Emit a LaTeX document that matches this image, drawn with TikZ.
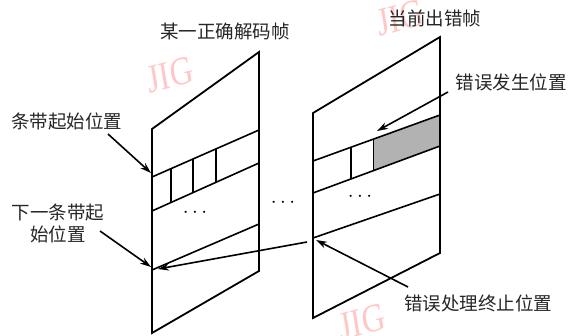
\documentclass[tikz,border=0pt]{standalone}
\usepackage{fontspec}
\newfontfamily\cjk{Noto Sans CJK SC}
\newfontfamily\wmfont{Liberation Serif}
\usetikzlibrary{arrows.meta,calc}
\begin{document}
\begin{tikzpicture}[x=1pt,y=-1pt,
  frame/.style={line width=1.8pt, line join=miter},
  thin/.style={line width=1.6pt},
  lbl/.style={font=\cjk\fontsize{18.5}{22}\selectfont, inner sep=0pt, text=black!85},
  arr/.style={line width=1.6pt, -{Stealth[length=11pt,width=7pt]}},
  dots/.style={font=\fontsize{20}{20}\selectfont, inner sep=0pt},
  wm/.style={font=\wmfont\fontsize{40}{40}\selectfont, text=red!22, inner sep=0pt, xscale=0.8}]
\useasboundingbox (0,0) rectangle (573,335);
% watermarks
\node[wm, rotate=12] (wm1) at (170,75) {JIG};
\node[wm, rotate=12] (wm2) at (400,18) {JIG};
\node[wm, rotate=12] (wm3) at (362,322) {JIG};
% left frame corners
\coordinate (LTL) at (152,129);
\coordinate (LTR) at (259,52);
\coordinate (LBR) at (259,271);
\coordinate (LBL) at (152,333);
% left strips
\coordinate (La1) at (152,177); \coordinate (Lb1) at (259,130);
\coordinate (La2) at (152,211); \coordinate (Lb2) at (259,163);
\coordinate (La3) at (152,270); \coordinate (Lb3) at (259,224);
% right frame corners
\coordinate (RTL) at (313,113);
\coordinate (RTR) at (440,37);
\coordinate (RBR) at (440,253);
\coordinate (RBL) at (313,318);
% right strips
\coordinate (Ra1) at (313,161); \coordinate (Rb1) at (440,115);
\coordinate (Ra2) at (313,193); \coordinate (Rb2) at (440,146);
\coordinate (Ra3) at (313,238); \coordinate (Rb3) at (440,194);
% gray cell
\fill[gray!60] ($(Ra1)!0.476!(Rb1)$) -- (Rb1) -- (Rb2) -- ($(Ra2)!0.476!(Rb2)$) -- cycle;
% frames
\draw[frame] (LTL) -- (LTR) -- (LBR) -- (LBL) -- cycle;
\draw[frame] (RTL) -- (RTR) -- (RBR) -- (RBL) -- cycle;
\draw[thin] (La1) -- (Lb1) (La2) -- (Lb2) (La3) -- (Lb3);
\draw[thin] (Ra1) -- (Rb1) (Ra2) -- (Rb2) (Ra3) -- (Rb3);
% vertical cell separators
\foreach \t in {0.178,0.383,0.598}
  \draw[thin] ($(La1)!\t!(Lb1)$) -- ($(La2)!\t!(Lb2)$);
\foreach \t in {0.299,0.476}
  \draw[thin] ($(Ra1)!\t!(Rb1)$) -- ($(Ra2)!\t!(Rb2)$);
% dots
\node[dots] (d1) at (195,213) {$\cdots$};
\node[dots] (d2) at (283,203) {$\cdots$};
\node[dots] (d3) at (360,197) {$\cdots$};
% labels
\node[lbl] (t1) at (225,31) {某一正确解码帧};
\node[lbl] (t2) at (435,18) {当前出错帧};
\node[lbl] (l1) at (67,121) {条带起始位置};
\node[lbl, align=center] (l2) at (58,223) {下一条带起\\始位置};
\node[lbl] (r1) at (511,82) {错误发生位置};
\node[lbl] (r2) at (478,303) {错误处理终止位置};
% arrow ends
\coordinate (s1) at (108,134);
\coordinate (e1) at (151,173);
\coordinate (s2) at (100,231);
\coordinate (e2) at (151,267);
\coordinate (s3) at (307,242);
\coordinate (e3) at (158,269);
\coordinate (s4) at (448,92);
\coordinate (e4) at (377,131);
\coordinate (s5) at (408,287);
\coordinate (e5) at (316,240);
\draw[arr] (s1) -- (e1);
\draw[arr] (s2) -- (e2);
\draw[arr] (s3) -- (e3);
\draw[arr] (s4) -- (e4);
\draw[arr] (s5) -- (e5);
\end{tikzpicture}
\end{document}
